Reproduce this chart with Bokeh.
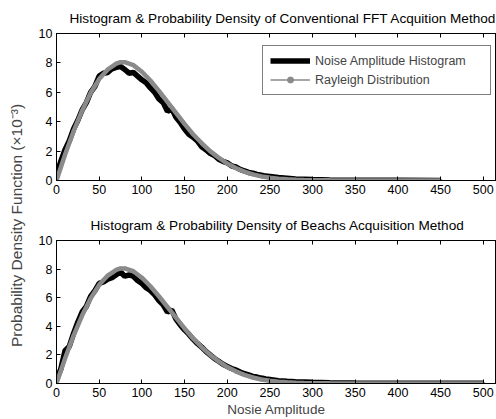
from bokeh.plotting import figure
from bokeh.layouts import row, column
from bokeh.models import (LinearAxis, Legend, LegendItem, FixedTicker, Range1d)
from bokeh.embed import file_html
from bokeh.resources import INLINE

# ---------------- data (PDF values in units of 1e-3) ----------------
x_ticks = [0, 50, 100, 150, 200, 250, 300, 350, 400, 450, 500]
y_ticks = [0, 2, 4, 6, 8, 10]

title_top = "Histogram & Probability Density of Conventional FFT Acquition Method"
title_bottom = "Histogram & Probability Density of Beachs Acquisition Method"
y_label = "Probability Density Function (\u00d710\u207b\u00b3)"
x_label = "Nosie Amplitude"
legend_hist = "Noise Amplitude Histogram"
legend_ray = "Rayleigh Distribution"

hist_top_x = [0, 5, 10, 15, 20, 25, 30, 35, 40, 45, 50, 55, 60, 65, 70, 75, 80, 85,
              90, 95, 100, 105, 110, 115, 120, 125, 130, 135, 140, 145, 150, 155,
              160, 165, 170, 175, 180, 185, 190, 195, 200, 205, 210, 215, 220, 225,
              230, 235, 240, 245, 250, 260, 270, 280, 290, 300, 320, 350, 400, 450]
hist_top_y = [0.4, 1.3, 2.1, 2.7, 3.5, 4.1, 4.8, 5.3, 6.0, 6.4, 7.1, 7.3, 7.35, 7.6,
              7.7, 7.75, 7.55, 7.3, 7.35, 7.1, 6.85, 6.65, 6.3, 6.0, 5.55, 5.3, 4.7,
              4.9, 4.3, 3.95, 3.5, 3.15, 2.95, 2.7, 2.3, 2.1, 1.85, 1.7, 1.45, 1.3,
              1.2, 1.0, 0.92, 0.75, 0.66, 0.55, 0.5, 0.42, 0.36, 0.3, 0.27, 0.2,
              0.15, 0.1, 0.08, 0.06, 0.04, 0.02, 0.01, 0.0]

hist_bot_x = [0, 5, 10, 15, 20, 25, 30, 35, 40, 45, 50, 55, 60, 65, 70, 75, 80, 85,
              90, 95, 100, 105, 110, 115, 120, 125, 130, 135, 140, 145, 150, 155,
              160, 165, 170, 175, 180, 185, 190, 195, 200, 205, 210, 215, 220, 225,
              230, 235, 240, 245, 250, 260, 270, 280, 290, 300, 320, 350, 400, 450, 500]
hist_bot_y = [0.3, 1.0, 2.3, 2.6, 3.5, 4.3, 5.0, 5.4, 6.1, 6.5, 7.0, 7.1, 7.3, 7.4,
              7.6, 7.8, 7.5, 7.6, 7.5, 7.2, 7.0, 6.7, 6.5, 6.2, 5.8, 5.5, 5.0, 5.15,
              4.5, 4.1, 3.75, 3.45, 3.1, 2.8, 2.55, 2.25, 2.0, 1.75, 1.55, 1.35, 1.2,
              1.05, 0.95, 0.8, 0.7, 0.6, 0.5, 0.45, 0.38, 0.32, 0.28, 0.2, 0.15, 0.12,
              0.1, 0.08, 0.05, 0.03, 0.02, 0.01, 0.01]

ray_x = [0, 10, 20, 30, 40, 50, 60, 70, 75, 80, 90, 100, 110, 120, 130, 140, 150,
         160, 170, 180, 190, 200, 210, 220, 230, 240, 250, 260, 270, 280, 290, 300,
         320, 350, 400, 450, 500]
ray_y = [0.0, 1.75, 3.35, 4.75, 5.95, 6.9, 7.55, 7.95, 8.05, 8.05, 7.85, 7.4, 6.8,
         6.1, 5.35, 4.6, 3.85, 3.15, 2.55, 2.0, 1.55, 1.15, 0.85, 0.6, 0.42, 0.28,
         0.19, 0.12, 0.08, 0.05, 0.03, 0.02, 0.01, 0.0, 0.0, 0.0, 0.0]
ray_top_end = 450

FONT = "Liberation Sans"
GRAY = "#8a8a8a"


def style_panel(p, show_xlabel):
    p.xaxis.ticker = FixedTicker(ticks=x_ticks)
    p.yaxis.ticker = FixedTicker(ticks=y_ticks)
    for ax in p.xaxis + p.yaxis:
        ax.major_tick_in = 4
        ax.major_tick_out = 0
        ax.minor_tick_line_color = None
        ax.axis_line_color = "black"
        ax.major_tick_line_color = "black"
        ax.major_label_text_font = FONT
        ax.major_label_text_font_size = "12.5px"
        ax.major_label_text_color = "black"
        ax.major_label_standoff = 4
    p.xgrid.visible = False
    p.ygrid.visible = False
    p.outline_line_color = "black"
    if show_xlabel:
        p.xaxis.axis_label = x_label
        p.xaxis.axis_label_text_font = FONT
        p.xaxis.axis_label_text_font_size = "13.5px"
        p.xaxis.axis_label_text_font_style = "normal"
        p.xaxis.axis_label_standoff = 2
    # top axis: inward tick marks only (as minor ticks)
    top = LinearAxis(ticker=FixedTicker(ticks=[], minor_ticks=x_ticks),
                     major_tick_in=0, major_tick_out=0,
                     minor_tick_in=4, minor_tick_out=0,
                     minor_tick_line_color="black",
                     axis_line_color="black")
    p.add_layout(top, "above")


def make_panel(hx, hy, rx, ry, height, bt, bb, title, standoff, offset, tsize,
               show_xlabel, with_legend):
    p = figure(width=464, height=height, output_backend="svg", title=title,
               toolbar_location=None, x_range=Range1d(0, 515.5),
               y_range=Range1d(0, 10), min_border_left=24, min_border_right=0,
               min_border_top=bt, min_border_bottom=bb)
    p.title.align = "left"
    p.title.offset = offset
    p.title.text_font = FONT
    p.title.text_font_size = tsize
    p.title.text_font_style = "normal"
    p.title.text_color = "black"
    p.title.standoff = standoff
    h = p.line(hx, hy, line_color="black", line_width=5.5)
    dot = p.scatter(rx, ry, marker="circle", size=3, color=GRAY)
    thin = p.line(rx, ry, line_color=GRAY, line_width=1.3)
    p.line(rx, ry, line_color=GRAY, line_width=4.5)
    style_panel(p, show_xlabel)
    if with_legend:
        legend = Legend(items=[LegendItem(label=legend_hist, renderers=[h]),
                               LegendItem(label=legend_ray, renderers=[thin, dot])],
                        location=(206, 85), glyph_width=40, glyph_height=15,
                        label_height=15, label_width=168, spacing=4, padding=7,
                        label_standoff=5, border_line_color="black",
                        border_line_width=1, label_text_font=FONT,
                        label_text_font_size="12.5px", background_fill_alpha=1)
        p.add_layout(legend)
    return p


ray_top_x = [v for v in ray_x if v <= ray_top_end]
ray_top_y = ray_y[:len(ray_top_x)]
p1 = make_panel(hist_top_x, hist_top_y, ray_top_x, ray_top_y,
                205, 33, 25, title_top, 16, 13, "13.6px", False, True)
p2 = make_panel(hist_bot_x, hist_bot_y, ray_x, ray_y,
                214, 35, 36, title_bottom, 15, 34, "13.6px", True, False)

# shared y label
lab = figure(width=32, height=419, output_backend="svg", toolbar_location=None,
             min_border_left=24, min_border_right=0, min_border_top=31,
             min_border_bottom=0, x_range=Range1d(0, 1), y_range=Range1d(0, 1))
lab.outline_line_color = None
lab.xaxis.visible = False
lab.xgrid.visible = False
lab.ygrid.visible = False
ya = lab.yaxis[0]
ya.ticker = FixedTicker(ticks=[])
ya.axis_label = y_label
ya.axis_label_text_font = FONT
ya.axis_label_text_font_size = "15.5px"
ya.axis_label_text_font_style = "normal"
ya.axis_label_standoff = 0
ya.axis_line_color = None
ya.major_tick_line_color = None
ya.minor_tick_line_color = None
ya.major_label_standoff = 0
ya.major_tick_out = 0
ya.major_tick_in = 0

layout = row(lab, column(p1, p2, spacing=0), spacing=0)

open("out.html", "w").write(file_html(layout, INLINE))
